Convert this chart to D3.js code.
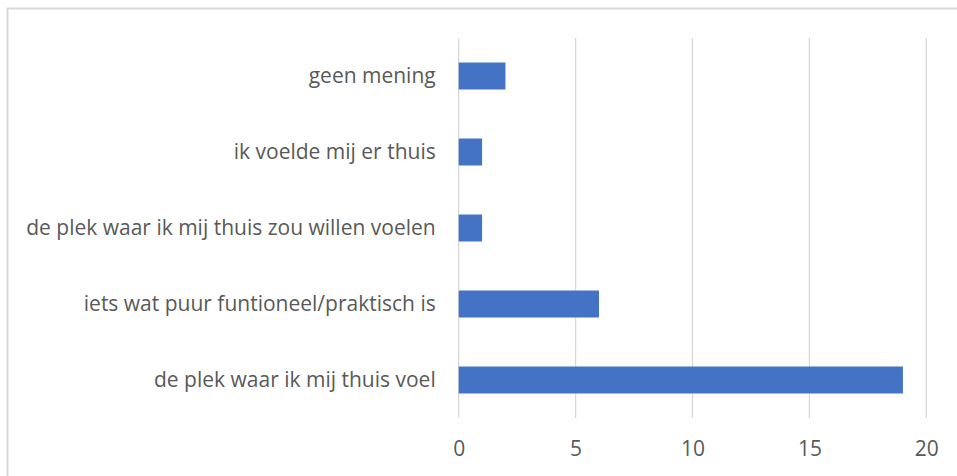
<!DOCTYPE html>
<html>
<head>
<meta charset="utf-8">
<script src="https://cdn.jsdelivr.net/npm/d3@7"></script>
<style>
  html, body { margin: 0; padding: 0; background: #ffffff; }
  svg { display: block; }
  text { font-family: "Open Sans", sans-serif; fill: #595959; }
</style>
</head>
<body>
<div id="chart"></div>
<script>
const categories = [
  "geen mening",
  "ik voelde mij er thuis",
  "de plek waar ik mij thuis zou willen voelen",
  "iets wat puur funtioneel/praktisch is",
  "de plek waar ik mij thuis voel"
];
const values = [2, 1, 1, 6, 19];
const xTicks = [0, 5, 10, 15, 20];

const W = 957, H = 476;
const margin = { top: 38, right: 31, bottom: 58, left: 458.7 };

const svg = d3.select("#chart").append("svg")
  .attr("width", W).attr("height", H);

// chart frame (light border)
svg.append("rect")
  .attr("x", 7.5).attr("y", 8.5)
  .attr("width", W + 20).attr("height", H + 20)
  .attr("fill", "none").attr("stroke", "#d9d9d9").attr("stroke-width", 2);

const x = d3.scaleLinear().domain([0, 20]).range([margin.left, 926.3]);
const y = d3.scaleBand().domain(categories)
  .range([margin.top, 418]).paddingInner(0.645).paddingOuter(0.3225);

// gridlines
svg.append("g").selectAll("line").data(xTicks).join("line")
  .attr("x1", d => x(d)).attr("x2", d => x(d))
  .attr("y1", margin.top).attr("y2", 418)
  .attr("stroke", "#d9d9d9").attr("stroke-width", 1.3);

// bars
svg.append("g").selectAll("rect").data(values).join("rect")
  .attr("x", x(0))
  .attr("y", (d, i) => y(categories[i]))
  .attr("width", d => x(d) - x(0))
  .attr("height", y.bandwidth())
  .attr("fill", "#4472c4");

// x axis labels
const xAxis = d3.axisBottom(x).tickValues(xTicks).tickSize(0).tickPadding(0);
const gx = svg.append("g").attr("transform", "translate(0,441)").call(xAxis);
gx.select(".domain").remove();
gx.selectAll("text").style("font-size", "21px").attr("fill", "#595959");

// y axis labels
const yAxis = d3.axisLeft(y).tickSize(0).tickPadding(23);
const gy = svg.append("g").attr("transform", `translate(${x(0)},0)`).call(yAxis);
gy.select(".domain").remove();
gy.selectAll("text").style("font-size", "21px").attr("fill", "#595959");
</script>
</body>
</html>
